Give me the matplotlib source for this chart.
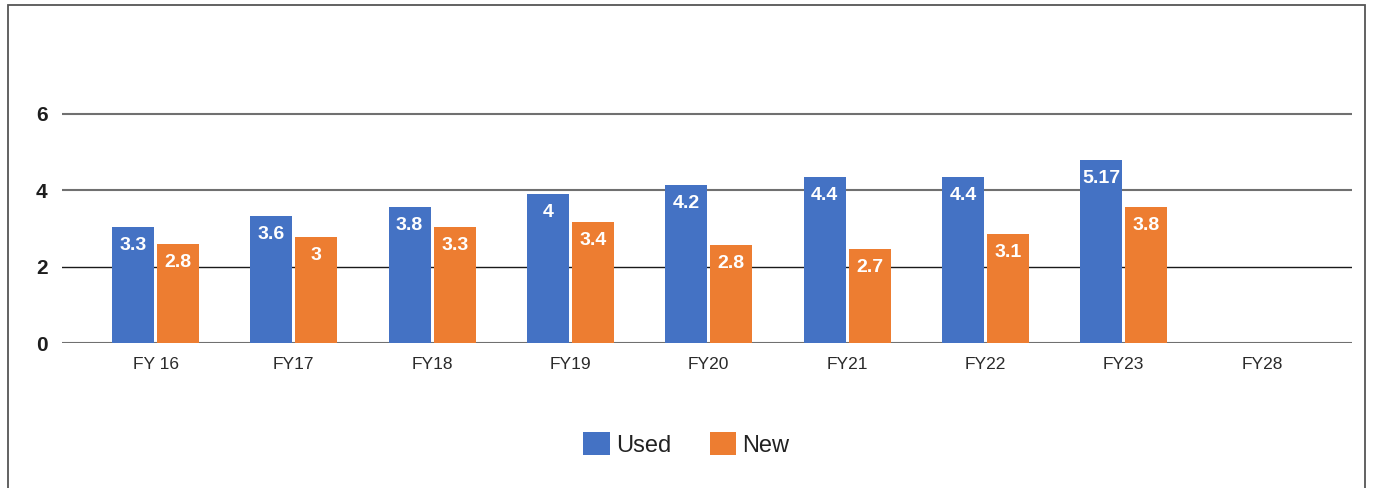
import numpy as np
import matplotlib
matplotlib.use("Agg")
import matplotlib.pyplot as plt
from matplotlib import font_manager
from matplotlib.patches import Rectangle

categories = ["FY 16", "FY17", "FY18", "FY19", "FY20", "FY21", "FY22", "FY23", "FY28"]
used_values = [3.04, 3.32, 3.56, 3.90, 4.13, 4.34, 4.34, 4.79, np.nan]
new_values = [2.59, 2.78, 3.04, 3.17, 2.57, 2.47, 2.85, 3.56, np.nan]
used_labels = ["3.3", "3.6", "3.8", "4", "4.2", "4.4", "4.4", "5.17", ""]
new_labels = ["2.8", "3", "3.3", "3.4", "2.8", "2.7", "3.1", "3.8", ""]
y_ticks = [0, 2, 4, 6]
series_names = ["Used", "New"]

names = {f.name for f in font_manager.fontManager.ttflist}
narrow = "Liberation Sans Narrow" if "Liberation Sans Narrow" in names else "Liberation Sans"
plt.rcParams["font.family"] = [narrow, "DejaVu Sans"]

blue = "#4472C4"
orange = "#ED7D31"

fig = plt.figure(figsize=(13.73, 4.88), dpi=100)
ax = fig.add_axes([62 / 1373, (488 - 343.3) / 488, (1352 - 62) / 1373, 7 * 38.27 / 488])

x = np.arange(len(categories))
w = 0.304
off = 0.163
b1 = ax.bar(x - off, used_values, width=w, color=blue, zorder=3, label=series_names[0])
b2 = ax.bar(x + off, new_values, width=w, color=orange, zorder=3, label=series_names[1])

for xs, vals, labs in [(x - off, used_values, used_labels), (x + off, new_values, new_labels)]:
    for xi, v, lab in zip(xs, vals, labs):
        if lab and not np.isnan(v):
            ax.annotate(lab, (xi, v), xytext=(0, -13.5), textcoords="offset points",
                        ha="center", va="center", color="white", fontsize=14,
                        fontweight="bold", zorder=4)

ax.set_xlim(-0.676, 8.65)
ax.set_ylim(0, 7)
ax.set_yticks(y_ticks)
ax.set_xticks(x)
ax.set_xticklabels(categories, fontsize=12.5, color="#2a2a2a")
ax.tick_params(axis="x", length=0, pad=10)
ax.tick_params(axis="y", length=0, pad=10.5, labelsize=15, labelcolor="#1e1e1e")
for t in ax.get_yticklabels():
    t.set_fontweight("bold")
for yt in y_ticks:
    if yt == 2:
        ax.axhline(yt, color="#1a1a1a", lw=1.0, zorder=1)
    else:
        ax.axhline(yt, color="#707070", lw=1.5, zorder=1)
for s in ax.spines.values():
    s.set_visible(False)

fig.add_artist(Rectangle((7.5 / 1373, -0.02), (1365 - 7.5) / 1373, 1 - 5.5 / 488 + 0.02,
                         transform=fig.transFigure, fill=False, edgecolor="#555555", lw=1.3))

fig.legend(handles=[b1, b2], labels=series_names, loc="center",
           bbox_to_anchor=(686.5 / 1373, 1 - 444.5 / 488), ncol=2, frameon=False,
           fontsize=17, handlelength=1.14, handleheight=1.14, handletextpad=0.26,
           columnspacing=1.6, borderpad=0, labelcolor="#222222")

fig.savefig("out.png", dpi=100)
